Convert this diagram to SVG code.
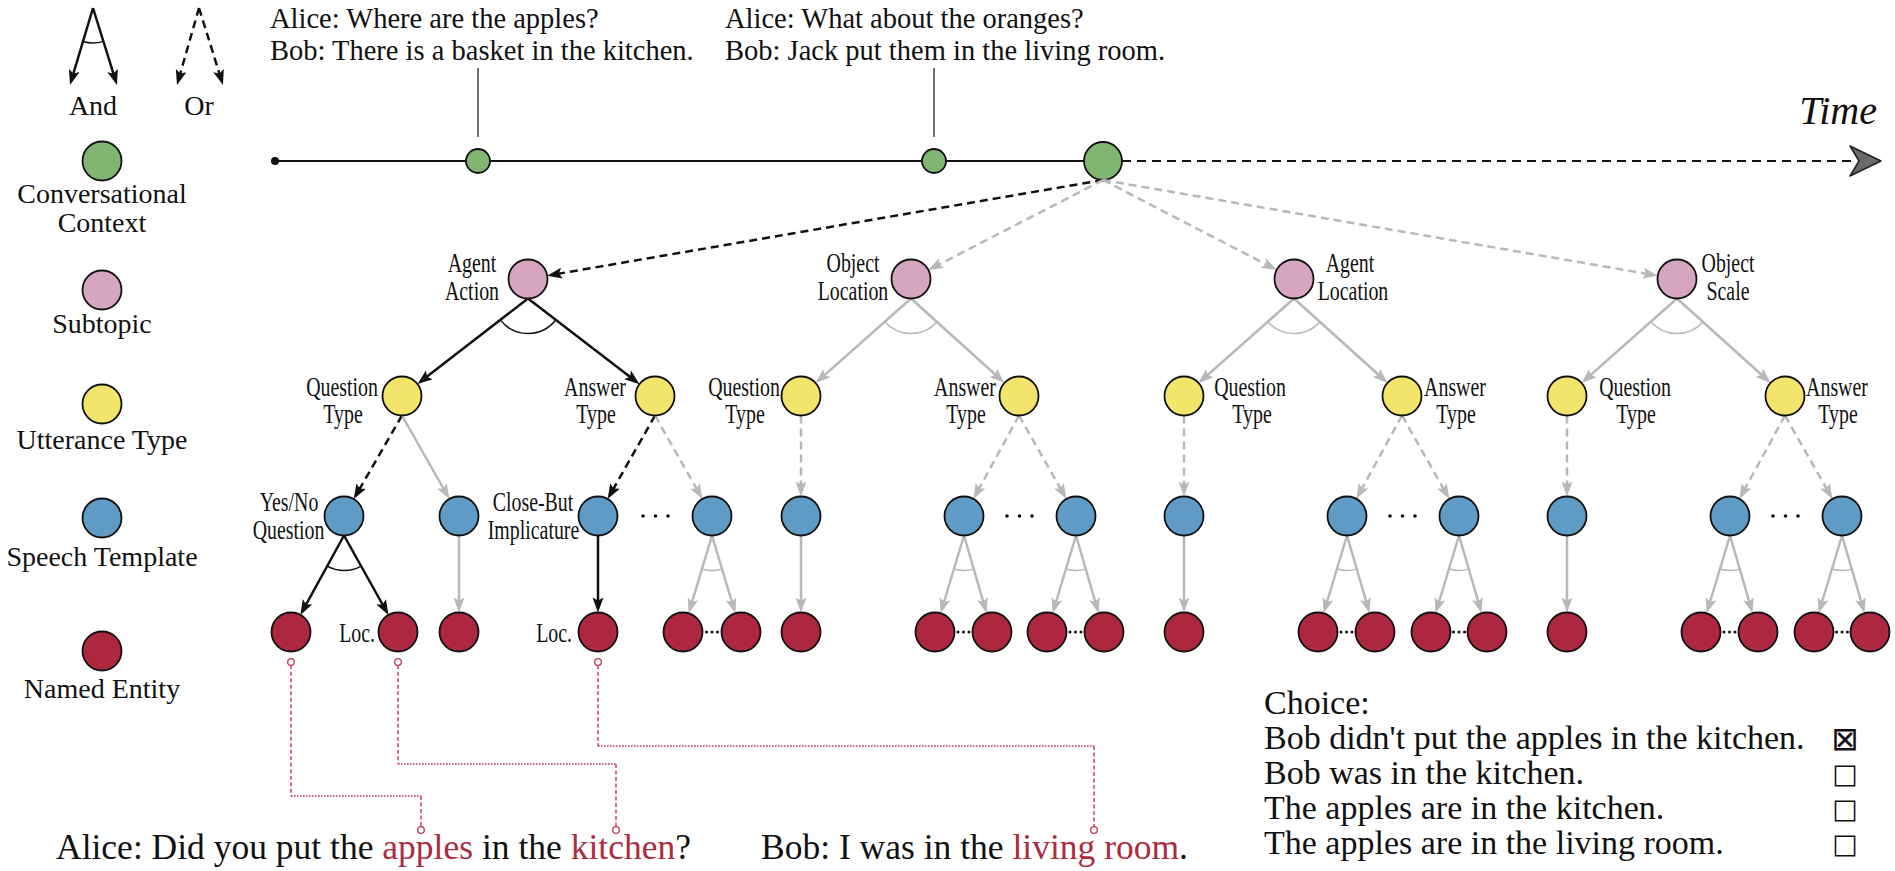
<svg xmlns="http://www.w3.org/2000/svg" width="1895" height="871" viewBox="0 0 1895 871">
<defs>
<style>
.n{stroke:#111;stroke-width:1.8}
.gr{fill:#80b672}.pk{fill:#d6a5c0}.ye{fill:#f3e46b}.bl{fill:#5f9bc4}.rd{fill:#ad283e}
.t{font-family:"Liberation Serif","Times New Roman",serif;fill:#111}
.leg{font-size:28px;text-anchor:middle}
.top{font-size:28.5px}
.big{font-size:35.5px}
.ch{font-size:34px}
.lbl{font-size:26.5px;text-anchor:middle}
.lblE{font-size:26.5px;text-anchor:end}
.blk{stroke:#111;stroke-width:2.5;fill:none}
.gry{stroke:#b8b8b8;stroke-width:2.5;fill:none}
.dsh{stroke-dasharray:8 5}
.arcb{stroke:#111;stroke-width:1.5;fill:none}
.arcg{stroke:#b8b8b8;stroke-width:1.5;fill:none}
.ab{marker-end:url(#ab)}
.ag{marker-end:url(#ag)}
.rv{stroke:#c0394f;stroke-width:1.4;fill:none;stroke-dasharray:4 2.5}
.rh{stroke:#c0394f;stroke-width:1.6;fill:none;stroke-dasharray:1.6 1.4}
.rc{stroke:#c0394f;stroke-width:1.3;fill:#fff}
.dot{fill:#111}
.red{fill:#ad2b3f}
.box{font-family:"DejaVu Sans",sans-serif;font-size:27px;text-anchor:middle;fill:#111}
.boxx{font-family:"DejaVu Sans",sans-serif;font-size:33px;text-anchor:middle;fill:#111}
</style>
<marker id="ab" markerUnits="userSpaceOnUse" markerWidth="16" markerHeight="12" refX="11" refY="5.5" orient="auto"><path d="M0,0 L15,5.5 L0,11 L3,5.5 z" fill="#111"/></marker>
<marker id="ag" markerUnits="userSpaceOnUse" markerWidth="16" markerHeight="12" refX="11" refY="5.5" orient="auto"><path d="M0,0 L15,5.5 L0,11 L3,5.5 z" fill="#b8b8b8"/></marker>
</defs>
<rect width="1895" height="871" fill="#fff"/>

<!-- Legend -->
<g id="legend-and">
<path class="blk ab" d="M93,8 L71.1,81.2"/>
<path class="blk ab" d="M93,8 L115.8,81.2"/>
<path class="arcb" d="M83,41.5 A35,35 0 0,0 103.4,41.4"/>
<text class="t leg" x="93" y="115">And</text>
</g>
<g id="legend-or">
<path class="blk dsh ab" d="M199,8 L178.1,81.15"/>
<path class="blk dsh ab" d="M199,8 L221.8,81.2"/>
<text class="t leg" x="199" y="115">Or</text>
</g>
<g id="legend-context"><circle class="n gr" cx="102" cy="161" r="19.5"/><text class="t leg" x="102" y="203">Conversational</text><text class="t leg" x="102" y="232">Context</text></g>
<g id="legend-subtopic"><circle class="n pk" cx="102" cy="290" r="19.5"/><text class="t leg" x="102" y="333">Subtopic</text></g>
<g id="legend-utterance"><circle class="n ye" cx="102" cy="404" r="19.5"/><text class="t leg" x="102" y="449">Utterance Type</text></g>
<g id="legend-template"><circle class="n bl" cx="102" cy="518" r="19.5"/><text class="t leg" x="102" y="566">Speech Template</text></g>
<g id="legend-entity"><circle class="n rd" cx="102" cy="651" r="19.5"/><text class="t leg" x="102" y="698">Named Entity</text></g>

<!-- Timeline -->
<g id="timeline">
<line x1="275" y1="161" x2="1090" y2="161" stroke="#111" stroke-width="2"/>
<line x1="1122" y1="161" x2="1856" y2="161" stroke="#111" stroke-width="2" stroke-dasharray="9 6"/>
<polygon points="1881,161 1850,146 1859,161 1850,176" fill="#6b6b6b" stroke="#222" stroke-width="1.5" stroke-linejoin="round"/>
<circle cx="275" cy="161" r="4" fill="#111"/>
<line x1="478" y1="68" x2="478" y2="137" stroke="#111" stroke-width="1.2"/>
<line x1="934" y1="68" x2="934" y2="137" stroke="#111" stroke-width="1.2"/>
<text class="t" x="1877" y="124" font-size="40" font-style="italic" text-anchor="end">Time</text>
</g>
<g id="turn1"><circle class="n gr" cx="478" cy="161" r="12"/>
<text class="t top" x="270" y="28">Alice: Where are the apples?</text>
<text class="t top" x="270" y="60">Bob: There is a basket in the kitchen.</text></g>
<g id="turn2"><circle class="n gr" cx="934" cy="161" r="12"/>
<text class="t top" x="725" y="28">Alice: What about the oranges?</text>
<text class="t top" x="725" y="60">Bob: Jack put them in the living room.</text></g>
<g id="context-now"><circle class="n gr" cx="1103" cy="161" r="19"/></g>

<!-- Connectors -->
<g id="connectors">
<path class="blk dsh ab" d="M1103,180 L551.1,275"/>
<path class="gry dsh ag" d="M1103,180 L931.8,268.2"/>
<path class="gry dsh ag" d="M1103,180 L1273.2,268.1"/>
<path class="gry dsh ag" d="M1103,180 L1653.9,275"/>
<!-- group 1 -->
<path class="blk ab" d="M528,298.5 L420.6,381.6"/>
<path class="blk ab" d="M528,298.5 L636.4,381.7"/>
<path class="arcb" d="M500.3,319.9 A35,35 0 0,0 555.8,319.8"/>
<path class="blk dsh ab" d="M402,415.5 L355.75,495.6"/>
<path class="gry ag" d="M402,415.5 L447.4,495.5"/>
<path class="blk dsh ab" d="M655,415.5 L609.6,495.5"/>
<path class="gry dsh ag" d="M655,415.5 L700.4,495.5"/>
<path class="blk ab" d="M344,535.5 L302.3,611.4"/>
<path class="blk ab" d="M344,535.5 L386.5,611.5"/>
<path class="arcb" d="M327.2,566.2 A35,35 0 0,0 361.1,566.1"/>
<path class="gry ag" d="M459,535.5 L459,608.5"/>
<path class="blk ab" d="M598,535.5 L598,608.5"/>
<path class="gry ag" d="M712,535.5 L689.8,609.5"/>
<path class="gry ag" d="M712,535.5 L734.2,609.5"/>
<path class="arcg" d="M701.9,569 A35,35 0 0,0 722.1,569"/>
<!-- group 2 -->
<path class="gry ag" d="M911,298.5 L818.58,380.4"/>
<path class="gry ag" d="M911,298.5 L1001.56,380.2"/>
<path class="arcg" d="M884.8,321.7 A35,35 0 0,0 937,321.95"/>
<path class="gry dsh ag" d="M801,415.5 L801,492.5"/>
<path class="gry dsh ag" d="M1019,415.5 L975.28,495.4"/>
<path class="gry dsh ag" d="M1019,415.5 L1064.41,495.5"/>
<path class="gry ag" d="M801,535.5 L801,608.5"/>
<path class="gry ag" d="M964,535.5 L941.76,609.5"/>
<path class="gry ag" d="M964,535.5 L985.46,609.4"/>
<path class="arcg" d="M953.93,569 A35,35 0 0,0 973.75,569.1"/>
<path class="gry ag" d="M1076,535.5 L1053.76,609.5"/>
<path class="gry ag" d="M1076,535.5 L1097.46,609.4"/>
<path class="arcg" d="M1065.93,569 A35,35 0 0,0 1085.75,569.1"/>
<!-- group 3 -->
<path class="gry ag" d="M1294,298.5 L1201.58,380.4"/>
<path class="gry ag" d="M1294,298.5 L1384.56,380.2"/>
<path class="arcg" d="M1267.8,321.7 A35,35 0 0,0 1320,321.95"/>
<path class="gry dsh ag" d="M1184,415.5 L1184,492.5"/>
<path class="gry dsh ag" d="M1402,415.5 L1358.28,495.4"/>
<path class="gry dsh ag" d="M1402,415.5 L1447.41,495.5"/>
<path class="gry ag" d="M1184,535.5 L1184,608.5"/>
<path class="gry ag" d="M1347,535.5 L1324.76,609.5"/>
<path class="gry ag" d="M1347,535.5 L1368.46,609.4"/>
<path class="arcg" d="M1336.93,569 A35,35 0 0,0 1356.75,569.1"/>
<path class="gry ag" d="M1459,535.5 L1436.76,609.5"/>
<path class="gry ag" d="M1459,535.5 L1480.46,609.4"/>
<path class="arcg" d="M1448.93,569 A35,35 0 0,0 1468.75,569.1"/>
<!-- group 4 -->
<path class="gry ag" d="M1677,298.5 L1584.58,380.4"/>
<path class="gry ag" d="M1677,298.5 L1767.56,380.2"/>
<path class="arcg" d="M1650.8,321.7 A35,35 0 0,0 1703,321.95"/>
<path class="gry dsh ag" d="M1567,415.5 L1567,492.5"/>
<path class="gry dsh ag" d="M1785,415.5 L1741.28,495.4"/>
<path class="gry dsh ag" d="M1785,415.5 L1830.41,495.5"/>
<path class="gry ag" d="M1567,535.5 L1567,608.5"/>
<path class="gry ag" d="M1730,535.5 L1707.76,609.5"/>
<path class="gry ag" d="M1730,535.5 L1751.46,609.4"/>
<path class="arcg" d="M1719.93,569 A35,35 0 0,0 1739.75,569.1"/>
<path class="gry ag" d="M1842,535.5 L1819.76,609.5"/>
<path class="gry ag" d="M1842,535.5 L1863.46,609.4"/>
<path class="arcg" d="M1831.93,569 A35,35 0 0,0 1851.75,569.1"/>
<!-- entity links -->
<path class="rv" d="M291,665.3 V796"/><path class="rh" d="M291,796 H421"/><path class="rv" d="M421,796 V826.7"/>
<path class="rv" d="M398,665.3 V764"/><path class="rh" d="M398,764 H616"/><path class="rv" d="M616,764 V826.7"/>
<path class="rv" d="M598,665.3 V746"/><path class="rh" d="M598,746 H1094"/><path class="rv" d="M1094,746 V826.7"/>
<circle class="rc" cx="291" cy="662" r="3.3"/><circle class="rc" cx="398" cy="662" r="3.3"/><circle class="rc" cx="598" cy="662" r="3.3"/>
<circle class="rc" cx="421" cy="830" r="3.3"/><circle class="rc" cx="616" cy="830" r="3.3"/><circle class="rc" cx="1094" cy="830" r="3.3"/>
</g>

<!-- Subtopics -->
<g id="agent-action"><circle class="n pk" cx="528" cy="279" r="19.5"/>
<text class="t lbl" transform="translate(472,272) scale(0.75,1)">Agent</text>
<text class="t lbl" transform="translate(472,300) scale(0.75,1)">Action</text></g>
<g id="object-location"><circle class="n pk" cx="911" cy="279" r="19.5"/>
<text class="t lbl" transform="translate(853,272) scale(0.75,1)">Object</text>
<text class="t lbl" transform="translate(853,300) scale(0.75,1)">Location</text></g>
<g id="agent-location"><circle class="n pk" cx="1294" cy="279" r="19.5"/>
<text class="t lbl" transform="translate(1350,272) scale(0.75,1)">Agent</text>
<text class="t lbl" transform="translate(1353,300) scale(0.75,1)">Location</text></g>
<g id="object-scale"><circle class="n pk" cx="1677" cy="279" r="19.5"/>
<text class="t lbl" transform="translate(1728,272) scale(0.75,1)">Object</text>
<text class="t lbl" transform="translate(1728,300) scale(0.75,1)">Scale</text></g>

<!-- Utterance types -->
<g id="g1-question"><circle class="n ye" cx="402" cy="396" r="19.5"/>
<text class="t lbl" transform="translate(342,396) scale(0.75,1)">Question</text>
<text class="t lbl" transform="translate(343,423) scale(0.75,1)">Type</text></g>
<g id="g1-answer"><circle class="n ye" cx="655" cy="396" r="19.5"/>
<text class="t lbl" transform="translate(595,396) scale(0.75,1)">Answer</text>
<text class="t lbl" transform="translate(596,423) scale(0.75,1)">Type</text></g>
<g id="g2-question"><circle class="n ye" cx="801" cy="396" r="19.5"/>
<text class="t lbl" transform="translate(744,396) scale(0.75,1)">Question</text>
<text class="t lbl" transform="translate(745,423) scale(0.75,1)">Type</text></g>
<g id="g2-answer"><circle class="n ye" cx="1019" cy="396" r="19.5"/>
<text class="t lbl" transform="translate(965,396) scale(0.75,1)">Answer</text>
<text class="t lbl" transform="translate(966,423) scale(0.75,1)">Type</text></g>
<g id="g3-question"><circle class="n ye" cx="1184" cy="396" r="19.5"/>
<text class="t lbl" transform="translate(1250,396) scale(0.75,1)">Question</text>
<text class="t lbl" transform="translate(1252,423) scale(0.75,1)">Type</text></g>
<g id="g3-answer"><circle class="n ye" cx="1402" cy="396" r="19.5"/>
<text class="t lbl" transform="translate(1455,396) scale(0.75,1)">Answer</text>
<text class="t lbl" transform="translate(1456,423) scale(0.75,1)">Type</text></g>
<g id="g4-question"><circle class="n ye" cx="1567" cy="396" r="19.5"/>
<text class="t lbl" transform="translate(1635,396) scale(0.75,1)">Question</text>
<text class="t lbl" transform="translate(1636,423) scale(0.75,1)">Type</text></g>
<g id="g4-answer"><circle class="n ye" cx="1785" cy="396" r="19.5"/>
<text class="t lbl" transform="translate(1837,396) scale(0.75,1)">Answer</text>
<text class="t lbl" transform="translate(1838,423) scale(0.75,1)">Type</text></g>

<!-- Speech templates -->
<g id="g1-yesno"><circle class="n bl" cx="344" cy="516" r="19.5"/>
<text class="t lbl" transform="translate(289,511) scale(0.75,1)">Yes/No</text>
<text class="t lbl" transform="translate(288.5,539) scale(0.75,1)">Question</text></g>
<g id="g1-qt2"><circle class="n bl" cx="459" cy="516" r="19.5"/></g>
<g id="g1-closebut"><circle class="n bl" cx="598" cy="516" r="19.5"/>
<text class="t lbl" transform="translate(533,511) scale(0.75,1)">Close-But</text>
<text class="t lbl" transform="translate(533.5,539) scale(0.75,1)">Implicature</text></g>
<g id="g1-at2"><circle class="n bl" cx="712" cy="516" r="19.5"/></g>
<g id="g2-qt"><circle class="n bl" cx="801" cy="516" r="19.5"/></g>
<g id="g2-at1"><circle class="n bl" cx="964" cy="516" r="19.5"/></g>
<g id="g2-at2"><circle class="n bl" cx="1076" cy="516" r="19.5"/></g>
<g id="g3-qt"><circle class="n bl" cx="1184" cy="516" r="19.5"/></g>
<g id="g3-at1"><circle class="n bl" cx="1347" cy="516" r="19.5"/></g>
<g id="g3-at2"><circle class="n bl" cx="1459" cy="516" r="19.5"/></g>
<g id="g4-qt"><circle class="n bl" cx="1567" cy="516" r="19.5"/></g>
<g id="g4-at1"><circle class="n bl" cx="1730" cy="516" r="19.5"/></g>
<g id="g4-at2"><circle class="n bl" cx="1842" cy="516" r="19.5"/></g>
<g id="template-ellipses">
<circle class="dot" cx="643" cy="516" r="1.8"/><circle class="dot" cx="655.5" cy="516" r="1.8"/><circle class="dot" cx="668" cy="516" r="1.8"/>
<circle class="dot" cx="1007" cy="516" r="1.8"/><circle class="dot" cx="1019.5" cy="516" r="1.8"/><circle class="dot" cx="1032" cy="516" r="1.8"/>
<circle class="dot" cx="1390" cy="516" r="1.8"/><circle class="dot" cx="1402.5" cy="516" r="1.8"/><circle class="dot" cx="1415" cy="516" r="1.8"/>
<circle class="dot" cx="1773" cy="516" r="1.8"/><circle class="dot" cx="1785.5" cy="516" r="1.8"/><circle class="dot" cx="1798" cy="516" r="1.8"/>
</g>

<!-- Named entities -->
<g id="g1-e1"><circle class="n rd" cx="291" cy="632" r="19.5"/></g>
<g id="g1-e2"><circle class="n rd" cx="398" cy="632" r="19.5"/><text class="t lblE" transform="translate(375,642) scale(0.75,1)">Loc.</text></g>
<g id="g1-e3"><circle class="n rd" cx="459" cy="632" r="19.5"/></g>
<g id="g1-e4"><circle class="n rd" cx="598" cy="632" r="19.5"/><text class="t lblE" transform="translate(572,642) scale(0.75,1)">Loc.</text></g>
<g id="g1-e5"><circle class="n rd" cx="683" cy="632" r="19.5"/></g>
<g id="g1-e6"><circle class="n rd" cx="741" cy="632" r="19.5"/></g>
<g id="g2-e1"><circle class="n rd" cx="801" cy="632" r="19.5"/></g>
<g id="g2-e2"><circle class="n rd" cx="935" cy="632" r="19.5"/></g>
<g id="g2-e3"><circle class="n rd" cx="992" cy="632" r="19.5"/></g>
<g id="g2-e4"><circle class="n rd" cx="1047" cy="632" r="19.5"/></g>
<g id="g2-e5"><circle class="n rd" cx="1104" cy="632" r="19.5"/></g>
<g id="g3-e1"><circle class="n rd" cx="1184" cy="632" r="19.5"/></g>
<g id="g3-e2"><circle class="n rd" cx="1318" cy="632" r="19.5"/></g>
<g id="g3-e3"><circle class="n rd" cx="1375" cy="632" r="19.5"/></g>
<g id="g3-e4"><circle class="n rd" cx="1431" cy="632" r="19.5"/></g>
<g id="g3-e5"><circle class="n rd" cx="1487" cy="632" r="19.5"/></g>
<g id="g4-e1"><circle class="n rd" cx="1567" cy="632" r="19.5"/></g>
<g id="g4-e2"><circle class="n rd" cx="1701" cy="632" r="19.5"/></g>
<g id="g4-e3"><circle class="n rd" cx="1758" cy="632" r="19.5"/></g>
<g id="g4-e4"><circle class="n rd" cx="1814" cy="632" r="19.5"/></g>
<g id="g4-e5"><circle class="n rd" cx="1870" cy="632" r="19.5"/></g>
<g id="entity-ellipses">
<circle class="dot" cx="706.5" cy="632" r="1.5"/><circle class="dot" cx="712" cy="632" r="1.5"/><circle class="dot" cx="717.5" cy="632" r="1.5"/>
<circle class="dot" cx="958" cy="632" r="1.5"/><circle class="dot" cx="963.5" cy="632" r="1.5"/><circle class="dot" cx="969" cy="632" r="1.5"/>
<circle class="dot" cx="1070" cy="632" r="1.5"/><circle class="dot" cx="1075.5" cy="632" r="1.5"/><circle class="dot" cx="1081" cy="632" r="1.5"/>
<circle class="dot" cx="1341" cy="632" r="1.5"/><circle class="dot" cx="1346.5" cy="632" r="1.5"/><circle class="dot" cx="1352" cy="632" r="1.5"/>
<circle class="dot" cx="1453.5" cy="632" r="1.5"/><circle class="dot" cx="1459" cy="632" r="1.5"/><circle class="dot" cx="1464.5" cy="632" r="1.5"/>
<circle class="dot" cx="1724" cy="632" r="1.5"/><circle class="dot" cx="1729.5" cy="632" r="1.5"/><circle class="dot" cx="1735" cy="632" r="1.5"/>
<circle class="dot" cx="1836.5" cy="632" r="1.5"/><circle class="dot" cx="1842" cy="632" r="1.5"/><circle class="dot" cx="1847.5" cy="632" r="1.5"/>
</g>

<!-- Dialogue -->
<g id="utterance-alice"><text class="t big" x="56" y="859">Alice: Did you put the <tspan class="red">apples</tspan> in the <tspan class="red">kitchen</tspan>?</text></g>
<g id="utterance-bob"><text class="t big" x="761" y="859">Bob: I was in the <tspan class="red">living room</tspan>.</text></g>

<!-- Choices -->
<g id="choices">
<text class="t ch" x="1264" y="714">Choice:</text>
<text class="t ch" x="1264" y="749">Bob didn't put the apples in the kitchen.</text>
<text class="t ch" x="1264" y="784">Bob was in the kitchen.</text>
<text class="t ch" x="1264" y="819">The apples are in the kitchen.</text>
<text class="t ch" x="1264" y="854">The apples are in the living room.</text>
<text class="boxx" x="1845" y="750">⊠</text>
<text class="box" x="1845" y="783">□</text>
<text class="box" x="1845" y="818">□</text>
<text class="box" x="1845" y="853">□</text>
</g>
</svg>
